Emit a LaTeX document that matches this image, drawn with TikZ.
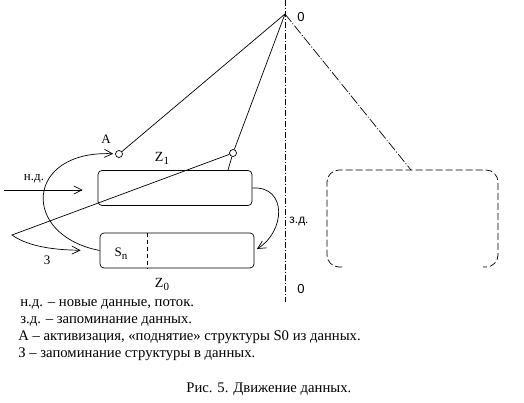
\documentclass[tikz,border=0pt]{standalone}
\usepackage{fontspec}
\setmainfont{Liberation Serif}
\newfontfamily\lblsans{Liberation Sans}
\usetikzlibrary{arrows.meta,positioning}
\newcommand{\lowidx}[1]{\raisebox{-3pt}{\fontsize{11}{11}\selectfont #1}}

\begin{document}
\begin{tikzpicture}[
  x=1pt,y=-1pt,
  font=\fontsize{14.7}{17}\selectfont,
  line width=0.7pt,
  store/.style={draw,rounded corners=4pt,minimum width=154pt,minimum height=35pt,inner sep=0pt},
  hook/.style={draw,circle,minimum size=7pt,inner sep=0pt,fill=white},
  flow/.style={-{Straight Barb[length=8pt,width=8pt]}},
  axis/.style={dash pattern=on 6pt off 2pt on 1pt off 2pt},
  lbl/.style={inner sep=0pt},
  leg/.style={anchor=base west,inner sep=0pt},
]
\useasboundingbox (0,0) rectangle (524,403);
% axis 0--0
\coordinate (top) at (285,14);
\coordinate (axtop) at (285,0);
\coordinate (axbot) at (285,302);
\draw[axis] (axtop) -- (axbot);
\node[lbl,font=\lblsans\fontsize{13}{13}\selectfont] at (301,17) {0};
\node[lbl,font=\lblsans\fontsize{13}{13}\selectfont] at (301,289) {0};

% data stores
\node[store] (z1) at (175,188) {};
\node[store] (z0) at (177,250.5) {};
\coordinate (cut) at (147,250);
\draw[dash pattern=on 4pt off 3pt] (cut |- z0.north) -- (cut |- z0.south);
\node[lbl,font=\fontsize{14}{14}\selectfont] at (162,158) {Z\lowidx{1}};
\node[lbl,font=\fontsize{14}{14}\selectfont] at (162,284) {Z\lowidx{0}};
\node[lbl,font=\fontsize{13}{13}\selectfont] at (121,254) {S\lowidx{n}};

% structure S0 hooks
\node[hook] (cA) at (119,154) {};
\node[hook] (cB) at (233,153) {};
\node[lbl,font=\fontsize{13}{13}\selectfont] at (106,139) {А};
\coordinate (Bfoot) at (228,170);
\draw (top) -- (cA);
\draw (top) -- (cB);
\draw (cB) -- (Bfoot);

% flows
\coordinate (ndin) at (4,190);
\draw[flow,shorten >=15pt] (ndin) -- (ndin -| z1.west);
\node[lbl,font=\fontsize{13}{13}\selectfont] at (34,179) {н.д.};
\draw[flow,shorten >=3pt] (z1.east) .. controls (288,186) and (285,232) .. (z0.east);
\node[lbl,font=\lblsans\fontsize{12}{12}\selectfont] at (299,221) {з.д.};
\coordinate (bend) at (12,235);
\draw[flow,shorten >=19pt] (cB) -- (bend) .. controls (30,248) and (60,250) .. (z0.west);
\node[lbl,font=\fontsize{13}{13}\selectfont] at (47,260) {3};
\draw[flow,shorten >=2pt] (z0.west) .. controls (20,235) and (25,150) .. (cA);

% copy of the structure, right
\coordinate (m1) at (327,170);
\coordinate (m2) at (498,267);
\coordinate (mtop) at (411,170);
\draw[dash pattern=on 7pt off 3pt,rounded corners=12pt] (342,267) -| (m1) -| (m2) -- ++(-15,0);
\draw[dash pattern=on 10pt off 2pt on 1pt off 2pt] (top) -- (mtop);

% legend
\node[leg] (leg1) at (20,306) {н.д. – новые данные, поток.};
\node[leg] (leg2) at (20,323) {з.д. – запоминание данных.};
\node[leg] (leg3) at (18,340) {А – активизация, «поднятие» структуры S0 из данных.};
\node[leg] (leg4) at (18,357) {З – запоминание структуры в данных.};
\node[leg] (cap) at (186,392) {Рис. 5. Движение данных.};
\end{tikzpicture}
\end{document}
